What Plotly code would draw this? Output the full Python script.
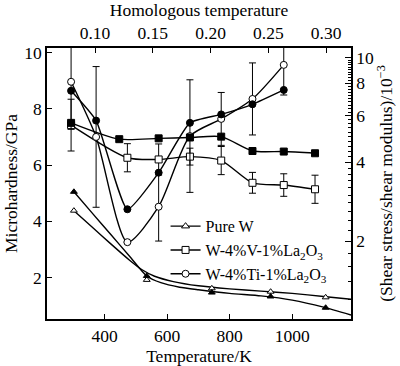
import plotly.graph_objects as go

TM = 3695.0  # melting point of W (K) for homologous temperature

# ---- data ----
T_alloy = [293, 373, 473, 573, 673, 773, 873, 973]
ti_open = [8.96, 7.00, 3.26, 4.52, 7.03, 7.64, 8.35, 9.56]
ti_open_err = [1.69, 2.50, 0.0, 1.22, 2.00, 0.94, 1.28, 1.07]
ti_fill = [8.64, 7.58, 4.43, 5.73, 7.50, 7.80, 8.16, 8.67]

T_v_open = [293, 473, 573, 673, 773, 873, 973, 1073]
v_open = [7.42, 6.26, 6.20, 6.30, 6.16, 5.37, 5.29, 5.14]
v_open_err = [0.92, 0.50, 0.55, 0.30, 0.50, 0.37, 0.40, 0.50]
T_v_fill = [293, 447, 573, 673, 773, 873, 973, 1073]
v_fill = [7.50, 6.92, 6.95, 6.98, 7.01, 6.50, 6.48, 6.42]

T_w = [302, 535, 743, 931, 1107]
w_open = [4.38, 1.92, 1.62, 1.50, 1.30]
w_fill = [5.05, 2.06, 1.47, 1.33, 0.93]

# fitted curves for pure W
T_w_open_fit = [302, 360, 420, 480, 520, 560, 620, 700, 800, 900, 1000, 1100, 1188]
w_open_fit = [4.38, 3.80, 3.20, 2.62, 2.28, 2.05, 1.86, 1.71, 1.60, 1.52, 1.44, 1.33, 1.23]
T_w_fill_fit = [302, 360, 420, 480, 535, 580, 640, 700, 800, 900, 1000, 1100, 1188]
w_fill_fit = [5.05, 4.30, 3.53, 2.76, 2.06, 1.82, 1.66, 1.57, 1.44, 1.35, 1.20, 0.95, 0.67]

x_ticks = [400, 600, 800, 1000]
y_ticks = [2, 4, 6, 8, 10]
h_ticks = [0.10, 0.15, 0.20, 0.25, 0.30]
r_ticks = [2, 4, 6, 8, 10]
r_minor = [v / 10 for v in range(12, 100, 2) if v % 20 != 0]

legend_names = ["Pure W", "W-4%V-1%La<sub>2</sub>O<sub>3</sub>", "W-4%Ti-1%La<sub>2</sub>O<sub>3</sub>"]
legend_symbols = ["triangle-up", "square", "circle"]

X_RANGE = [216, 1188]
FONT = "Liberation Serif, Times New Roman, serif"
FS = 17.5

fig = go.Figure()


def curve(x, y, smooth=1.0, shape="spline"):
    fig.add_trace(go.Scatter(x=x, y=y, mode="lines",
                             line=dict(color="black", width=1.4, shape=shape, smoothing=smooth),
                             showlegend=False, hoverinfo="skip"))


def marks(x, y, symbol, filled, err=None, size=7):
    m = dict(symbol=symbol, size=size, color="black" if filled else "white",
             line=dict(color="black", width=1))
    kw = {}
    if err is not None:
        kw["error_y"] = dict(type="data", array=err, visible=True, color="black", thickness=1, width=3.5)
    fig.add_trace(go.Scatter(x=x, y=y, mode="markers", marker=m, showlegend=False, hoverinfo="skip", **kw))


curve(T_w_open_fit, w_open_fit, 0.6)
curve(T_w_fill_fit, w_fill_fit, 0.6)
curve(T_v_fill, v_fill, 0.7)
curve(T_v_open, v_open, 0.7)
curve(T_alloy, ti_fill, 0.5)
curve(T_alloy, ti_open, 0.7)

marks(T_v_open, v_open, "square", False, v_open_err)
marks(T_alloy, ti_open, "circle", False, ti_open_err)
marks(T_v_fill, v_fill, "square", True)
marks(T_alloy, ti_fill, "circle", True)
marks(T_w, w_open, "triangle-up", False, size=6)
marks(T_w, w_fill, "triangle-up", True, size=6)

for name, sym in zip(legend_names, legend_symbols):
    fig.add_trace(go.Scatter(x=[None], y=[None], mode="lines+markers", name=name,
                             line=dict(color="black", width=1.4),
                             marker=dict(symbol=sym, size=7, color="white", line=dict(color="black", width=1))))

# dummy traces to activate the top and right axes
fig.add_trace(go.Scatter(x=[t / TM for t in T_alloy], y=ti_open, xaxis="x2", yaxis="y", mode="none",
                         showlegend=False, hoverinfo="skip"))
fig.add_trace(go.Scatter(x=T_alloy[:5], y=r_ticks, xaxis="x", yaxis="y2", mode="none",
                         showlegend=False, hoverinfo="skip"))
fig.add_trace(go.Scatter(x=T_alloy[:5], y=r_ticks, xaxis="x", yaxis="y3", mode="none",
                         showlegend=False, hoverinfo="skip"))

axis_common = dict(showgrid=False, zeroline=False, showline=True, linecolor="black", linewidth=1.6,
                   ticks="inside", tickcolor="black", tickwidth=1.2, automargin=False,
                   tickfont=dict(family=FONT, size=FS, color="black"))
TFONT = dict(family=FONT, size=FS, color="black")

fig.update_layout(
    width=400, height=366,
    margin=dict(l=47, r=49, t=48, b=47, autoexpand=False),
    paper_bgcolor="white", plot_bgcolor="white",
    font=dict(family=FONT, size=FS, color="black"),
    xaxis=dict(range=X_RANGE, tickvals=x_ticks, ticklen=5,
               title=dict(text="Temperature/K", font=TFONT, standoff=2), **axis_common),
    xaxis2=dict(range=[X_RANGE[0] / TM, X_RANGE[1] / TM], overlaying="x", side="top", anchor="y",
                tickvals=h_ticks, tickformat=".2f", ticklen=5,
                title=dict(text="Homologous temperature", font=TFONT, standoff=2), **axis_common),
    yaxis=dict(range=[0.53, 10.16], tickvals=y_ticks, ticklen=5,
               title=dict(text="Microhardness/GPa", font=TFONT, standoff=2), **axis_common),
    yaxis2=dict(type="log", range=[0.005, 1.037], overlaying="y", side="right", anchor="x",
                tickvals=r_ticks, ticktext=[str(v) for v in r_ticks], ticklen=6,
                title=dict(text="(Shear stress/shear modulus)/10<sup>\u22123</sup>", font=TFONT, standoff=2),
                **axis_common),
    yaxis3=dict(type="log", range=[0.005, 1.037], overlaying="y", side="right", anchor="x",
                tickvals=r_minor, showticklabels=False, ticks="inside", ticklen=3, tickcolor="black",
                tickwidth=1, showline=False, showgrid=False, zeroline=False, automargin=False),
    legend=dict(x=0.39, y=0.405, xanchor="left", yanchor="top", bgcolor="rgba(0,0,0,0)",
                font=dict(family=FONT, size=16), itemwidth=30, tracegroupgap=0),
    showlegend=True,
)

fig.write_html("out.html", config={"displayModeBar": False},
               post_script="document.body.style.margin='0';")
